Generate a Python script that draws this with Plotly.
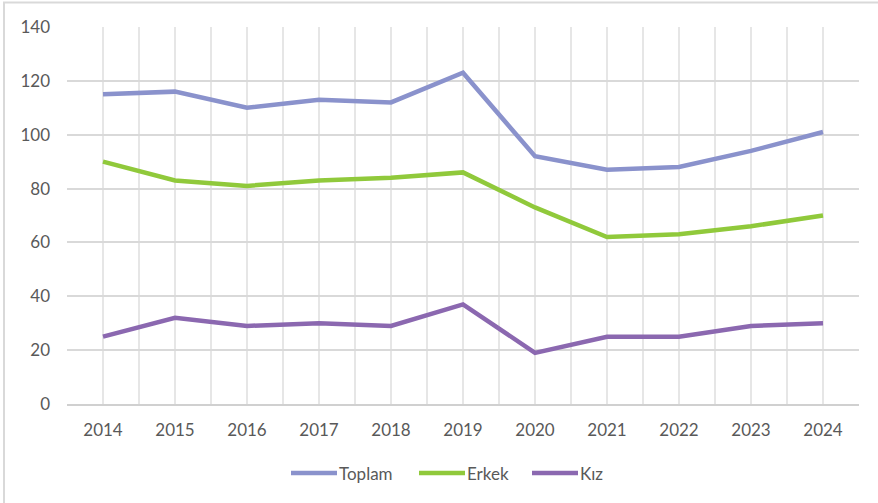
import plotly.graph_objects as go

years = [2014, 2015, 2016, 2017, 2018, 2019, 2020, 2021, 2022, 2023, 2024]
toplam = [115, 116, 110, 113, 112, 123, 92, 87, 88, 94, 101]
erkek = [90, 83, 81, 83, 84, 86, 73, 62, 63, 66, 70]
kiz = [25, 32, 29, 30, 29, 37, 19, 25, 25, 29, 30]
y_ticks = [0, 20, 40, 60, 80, 100, 120, 140]
series_names = ["Toplam", "Erkek", "Kız"]
series_colors = ["#8A92CC", "#90C93B", "#8B68B0"]
series_values = [toplam, erkek, kiz]

# plot area in pixels (for converting legend placement to paper coords)
PL, PR, PT, PB = 67, 859, 27, 404
def px_x(x):
    return (x - PL) / (PR - PL)
def px_y(y):
    return (PB - y) / (PB - PT)

fig = go.Figure()
for name, vals, col in zip(series_names, series_values, series_colors):
    fig.add_trace(go.Scatter(x=years, y=vals, name=name, mode="lines",
                             line=dict(color=col, width=4.5), showlegend=False))

font = dict(family="Lato, Open Sans, sans-serif", size=17, color="#595959")

fig.update_layout(
    width=878, height=503,
    margin=dict(l=PL, r=878 - PR, t=PT, b=503 - PB),
    plot_bgcolor="white", paper_bgcolor="white",
    font=font,
    showlegend=False,
    xaxis=dict(range=[2013.5, 2024.5], tickmode="array", tickvals=years,
               ticktext=[str(y) for y in years],
               showgrid=True, gridcolor="#E6E6E6", gridwidth=1.5,
               minor=dict(tickmode="array", tickvals=[y - 0.5 for y in years] + [2024.5],
                          showgrid=True, gridcolor="#E6E6E6", gridwidth=1.5),
               showline=True, linecolor="#D0D0D0", linewidth=1.5,
               ticks="outside", ticklen=10, tickcolor="rgba(0,0,0,0)",
               zeroline=False, fixedrange=True),
    yaxis=dict(range=[0, 140], tickmode="array", tickvals=y_ticks,
               showgrid=True, gridcolor="#D9D9D9", gridwidth=1.5,
               zeroline=False, showline=False, ticklabelstandoff=16, fixedrange=True),
)

# chart outer border (Excel chart area)
fig.add_shape(type="rect", xref="paper", yref="paper",
              x0=px_x(4), x1=px_x(884), y0=px_y(510), y1=px_y(2.5),
              line=dict(color="#D9D9D9", width=2), layer="below")

# legend (line sample + label)
legend_starts = [291, 419, 532]
for name, col, x0 in zip(series_names, series_colors, legend_starts):
    fig.add_shape(type="line", xref="paper", yref="paper",
                  x0=px_x(x0), x1=px_x(x0 + 46), y0=px_y(473), y1=px_y(473),
                  line=dict(color=col, width=4.5))
    fig.add_annotation(xref="paper", yref="paper", x=px_x(x0 + 47), y=px_y(473),
                       text=name, showarrow=False, xanchor="left", yanchor="middle",
                       font=font, xshift=-1)

fig.write_html("out.html", config={"displayModeBar": False},
               post_script="document.body.style.margin='0';document.body.style.overflow='hidden';")
